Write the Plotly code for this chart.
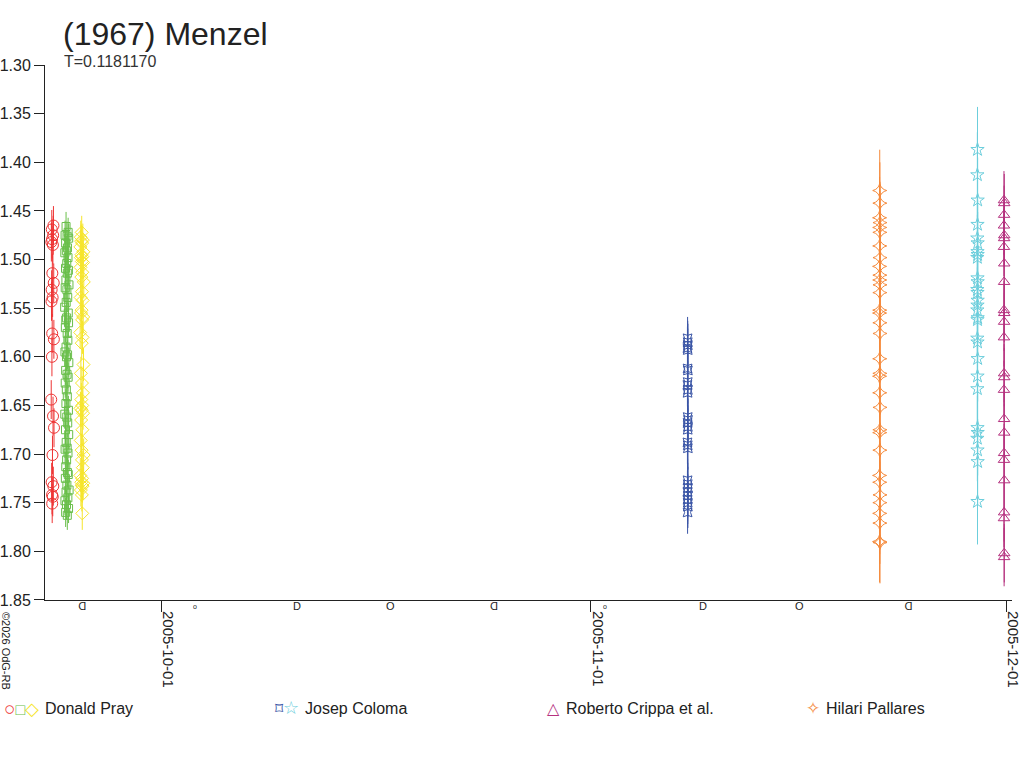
import pandas as pd
import plotly.graph_objects as go

TITLE = "(1967) Menzel"
PERIOD_TXT = "T=0.1181170"
COPYRIGHT = "©2026 OdG-RB"
FONT = "Liberation Sans, Arial, sans-serif"

# ── Сеансы наблюдений: дата, смещение по времени (сут), блеск, ошибка ───────
pray_r_day = "2005-09-23"
pray_r_t = [0.21, 0.09, 0.19, 0.11, 0.06, 0.17, 0.13, 0.23, 0.08, 0.15, 0.07, 0.12,
            0.24, 0.10, 0.05, 0.18, 0.25, 0.14, 0.08, 0.20, 0.11, 0.16, 0.12]
pray_r_mag = [1.465, 1.469, 1.475, 1.479, 1.482, 1.485, 1.514, 1.524, 1.531, 1.539,
              1.543, 1.576, 1.582, 1.600, 1.644, 1.661, 1.673, 1.701, 1.729, 1.733,
              1.742, 1.744, 1.751]
pray_r_err = 0.02

pray_g_day = "2005-09-24"
pray_g_t = [0.12, 0.27, 0.05, 0.19, 0.31, 0.09, 0.22, 0.14, 0.03, 0.26,
            0.17, 0.08, 0.29, 0.21, 0.11, 0.33, 0.06, 0.18, 0.24, 0.13,
            0.02, 0.28, 0.16, 0.10, 0.30, 0.07, 0.20, 0.25, 0.12, 0.04,
            0.23, 0.15, 0.32, 0.09, 0.19, 0.27, 0.06, 0.14, 0.21, 0.11,
            0.29, 0.03, 0.17, 0.24, 0.08, 0.31, 0.13, 0.20, 0.05, 0.26,
            0.16, 0.10, 0.22, 0.28, 0.07, 0.18, 0.34, 0.12, 0.25, 0.04,
            0.15, 0.30, 0.09, 0.21]
pray_g_mag = [1.466, 1.472, 1.475, 1.476, 1.478, 1.483, 1.488, 1.491, 1.493, 1.498,
              1.504, 1.509, 1.511, 1.514, 1.521, 1.526, 1.529, 1.531, 1.539, 1.544,
              1.549, 1.555, 1.560, 1.562, 1.565, 1.570, 1.576, 1.583, 1.590, 1.595,
              1.598, 1.600, 1.606, 1.614, 1.618, 1.621, 1.627, 1.634, 1.641, 1.648,
              1.655, 1.659, 1.662, 1.668, 1.675, 1.680, 1.688, 1.694, 1.695, 1.699,
              1.706, 1.713, 1.719, 1.721, 1.725, 1.732, 1.737, 1.739, 1.745, 1.748,
              1.752, 1.756, 1.760, 1.763]
pray_g_err = 0.015

pray_y_day = "2005-09-25"
pray_y_t = [0.25, 0.18, 0.33, 0.21, 0.28, 0.15, 0.37, 0.23, 0.30, 0.19,
            0.26, 0.35, 0.16, 0.29, 0.22, 0.40, 0.27, 0.17, 0.32, 0.24,
            0.20, 0.36, 0.28, 0.14, 0.31, 0.25, 0.38, 0.19, 0.27, 0.34,
            0.22, 0.29, 0.16, 0.26, 0.35, 0.21, 0.30, 0.18, 0.24, 0.39,
            0.27, 0.33, 0.15, 0.28, 0.22, 0.36, 0.25, 0.31, 0.19, 0.26, 0.29]
pray_y_mag = [1.472, 1.477, 1.480, 1.481, 1.483, 1.487, 1.492, 1.495, 1.497, 1.498,
              1.502, 1.503, 1.508, 1.513, 1.518, 1.523, 1.533, 1.539, 1.542, 1.552,
              1.555, 1.559, 1.562, 1.575, 1.580, 1.586, 1.608, 1.617, 1.627, 1.637,
              1.644, 1.650, 1.653, 1.655, 1.658, 1.665, 1.675, 1.686, 1.696, 1.701,
              1.706, 1.714, 1.722, 1.725, 1.729, 1.730, 1.732, 1.733, 1.737, 1.742, 1.761]
pray_y_err = 0.017

coloma1_day = "2005-11-07"
coloma1_t = [0.99, 1.00, 1.01, 0.98, 1.00, 0.99, 1.01, 1.00, 0.98, 1.01, 0.99, 1.00,
             1.02, 0.99, 1.01, 1.00, 0.98, 1.00, 1.01, 0.99, 1.00, 1.02, 0.98, 1.01,
             0.99, 1.00, 1.01, 0.99]
coloma1_mag = [1.581, 1.585, 1.588, 1.591, 1.593, 1.612, 1.614, 1.626, 1.629, 1.634,
               1.637, 1.662, 1.665, 1.668, 1.672, 1.675, 1.688, 1.691, 1.694, 1.727,
               1.731, 1.735, 1.739, 1.743, 1.747, 1.750, 1.754, 1.760]
coloma1_err = 0.022

pallares_day = "2005-11-21"
pallares_t = [0.86, 0.87, 0.85, 0.88, 0.86, 0.87, 0.86, 0.88, 0.85, 0.87, 0.86, 0.88,
              0.87, 0.86, 0.85, 0.87, 0.88, 0.86, 0.87, 0.85, 0.86, 0.88, 0.87, 0.86,
              0.87, 0.85, 0.86, 0.88, 0.87, 0.86, 0.87, 0.85, 0.88]
pallares_mag = [1.429, 1.442, 1.457, 1.462, 1.467, 1.472, 1.486, 1.498, 1.507, 1.516,
                1.521, 1.526, 1.534, 1.552, 1.555, 1.565, 1.576, 1.602, 1.617, 1.620,
                1.637, 1.652, 1.675, 1.678, 1.696, 1.722, 1.729, 1.742, 1.750, 1.761,
                1.771, 1.790, 1.791]
pallares_err = 0.042

coloma2_day = "2005-11-28"
coloma2_t = [0.92, 0.91, 0.93, 0.92, 0.91, 0.93, 0.92, 0.93, 0.91, 0.92, 0.93, 0.91,
             0.92, 0.93, 0.92, 0.91, 0.93, 0.92, 0.91, 0.92, 0.93, 0.92, 0.91, 0.92,
             0.93, 0.91, 0.92, 0.93, 0.92]
coloma2_mag = [1.387, 1.413, 1.439, 1.464, 1.478, 1.483, 1.492, 1.495, 1.498, 1.519,
               1.523, 1.531, 1.534, 1.542, 1.547, 1.552, 1.560, 1.562, 1.581, 1.585,
               1.602, 1.620, 1.633, 1.673, 1.678, 1.684, 1.696, 1.708, 1.749]
coloma2_err = 0.044

crippa_day = "2005-11-30"
crippa_t = [0.83, 0.85, 0.84, 0.83, 0.85, 0.84, 0.83, 0.85, 0.84, 0.83, 0.85, 0.84,
            0.83, 0.84, 0.85, 0.83, 0.84, 0.85, 0.84, 0.83, 0.85, 0.84, 0.83, 0.85, 0.84]
crippa_mag = [1.439, 1.442, 1.454, 1.465, 1.475, 1.478, 1.487, 1.504, 1.523, 1.552,
              1.555, 1.564, 1.580, 1.617, 1.621, 1.634, 1.664, 1.678, 1.699, 1.706,
              1.727, 1.760, 1.766, 1.802, 1.806]
crippa_err = 0.03

# ── Фазы Луны ────────────────────────────────────────────────────────────────
moon_dates = ["2005-09-25 06:41", "2005-10-03 10:28", "2005-10-10 19:01",
              "2005-10-17 12:14", "2005-10-25 01:17", "2005-11-02 01:25",
              "2005-11-09 01:57", "2005-11-16 00:57", "2005-11-23 22:11"]
moon_phase = ["LQ", "NM", "FQ", "FM", "LQ", "NM", "FQ", "FM", "LQ"]

x_ticks = ["2005-10-01", "2005-11-01", "2005-12-01"]
y_ticks = [1.30, 1.35, 1.40, 1.45, 1.50, 1.55, 1.60, 1.65, 1.70, 1.75, 1.80, 1.85]

# ── Оформление ───────────────────────────────────────────────────────────────
RED, GREEN, YELLOW = "#ee3434", "#6abf4b", "#f6e52c"
BLUE, CYAN, MAGENTA, ORANGE = "#3a55a6", "#6ccedc", "#b5317f", "#f5893a"

series = [
    (pray_r_day, pray_r_t, pray_r_mag, pray_r_err, RED, "circle-open", 11),
    (pray_g_day, pray_g_t, pray_g_mag, pray_g_err, GREEN, "square-open", 8),
    (pray_y_day, pray_y_t, pray_y_mag, pray_y_err, YELLOW, "diamond-open", 10),
    (coloma1_day, coloma1_t, coloma1_mag, coloma1_err, BLUE, "star-square-open", 8),
    (pallares_day, pallares_t, pallares_mag, pallares_err, ORANGE, "star-diamond-open", 10),
    (coloma2_day, coloma2_t, coloma2_mag, coloma2_err, CYAN, "star-open", 10),
    (crippa_day, crippa_t, crippa_mag, crippa_err, MAGENTA, "triangle-up-open", 10),
]

fig = go.Figure()
for day, t, mag, err, col, sym, size in series:
    x = pd.to_datetime(day) + pd.to_timedelta(t, unit="D")
    fig.add_trace(go.Scatter(
        x=x, y=mag, mode="markers",
        marker=dict(symbol=sym, size=size, color=col, line=dict(width=1, color=col)),
        error_y=dict(type="constant", value=err, thickness=1, width=0, color=col),
        hoverinfo="skip",
    ))

# ── Координаты в пикселях → доли области графика ────────────────────────────
L, R, T, B = 45, 1012, 65, 600
def px(x):
    return (x - L) / (R - L)
def py(y):
    return (B - y) / (B - T)

def sp(col, ch, size=19):
    return f"<span style='color:{col};font-size:{size}px'>{ch}</span>"

annotations = []

# значки фаз Луны под осью X
moon_glyph = {"LQ": ("D", 180, 11), "NM": ("o", 0, 7), "FQ": ("D", 0, 11), "FM": ("O", 0, 11)}
for d, ph in zip(moon_dates, moon_phase):
    ch, ang, fs = moon_glyph[ph]
    annotations.append(dict(
        x=d, y=py(606), xref="x", yref="paper", text=ch, textangle=ang, showarrow=False,
        xanchor="center", yanchor="middle", font=dict(size=fs, color="#222", family=FONT)))

legend_items = [
    (45, sp(RED, "○") + sp(GREEN, "□", 16) + sp(YELLOW, "◇", 18), "Donald Pray"),
    (305, sp(BLUE, "⌑", 16) + sp(CYAN, "☆", 18), "Josep Coloma"),
    (566, sp(MAGENTA, "△", 16), "Roberto Crippa et al."),
    (826, sp(ORANGE, "✧", 17), "Hilari Pallares"),
]
for x0, glyphs, label in legend_items:
    annotations.append(dict(
        x=px(x0 - 4), y=py(708), xref="paper", yref="paper", text=glyphs, showarrow=False,
        xanchor="right", yanchor="middle", font=dict(size=16, family=FONT)))
    annotations.append(dict(
        x=px(x0 - 2), y=py(708), xref="paper", yref="paper", text=label, showarrow=False,
        xanchor="left", yanchor="middle", font=dict(size=16, color="#222", family=FONT)))

annotations.append(dict(
    x=px(62), y=py(62), xref="paper", yref="paper", text=PERIOD_TXT, showarrow=False,
    xanchor="left", yanchor="middle", font=dict(size=16, color="#333", family=FONT)))
annotations.append(dict(
    x=px(6), y=py(651), xref="paper", yref="paper", text=COPYRIGHT, showarrow=False,
    textangle=90, xanchor="center", yanchor="middle",
    font=dict(size=11, color="#222", family=FONT)))

fig.update_layout(
    width=1024, height=768, autosize=False,
    margin=dict(l=L, r=1024 - R, t=T, b=768 - B),
    paper_bgcolor="white", plot_bgcolor="white",
    showlegend=False,
    font=dict(family=FONT, color="#222"),
    title=dict(text=TITLE, x=63 / 1024, xref="container", xanchor="left",
               y=1 - 34 / 768, yref="container", yanchor="middle",
               font=dict(size=32, color="#222", family=FONT)),
    xaxis=dict(type="date", range=["2005-09-22 14:24", "2005-12-01 09:50"],
               tickvals=x_ticks, ticktext=x_ticks, tickangle=90,
               ticks="outside", ticklen=11, tickcolor="#222",
               ticklabelshift=7, ticklabelstandoff=-4,
               showline=True, linecolor="#222", linewidth=1,
               showgrid=False, zeroline=False, automargin=False,
               tickfont=dict(size=15, color="#222", family=FONT)),
    yaxis=dict(range=[1.8501, 1.2999], tickvals=y_ticks, tickformat=".2f",
               ticks="outside", ticklen=10, tickcolor="#222",
               showline=True, linecolor="#222", linewidth=1,
               showgrid=False, zeroline=False, automargin=False,
               tickfont=dict(size=16, color="#222", family=FONT)),
    annotations=annotations,
)

# убрать отступ body, чтобы график начинался с (0, 0); без панели инструментов
fig.write_html("out.html", config={"displayModeBar": False},
               post_script="document.body.style.margin='0px';")
